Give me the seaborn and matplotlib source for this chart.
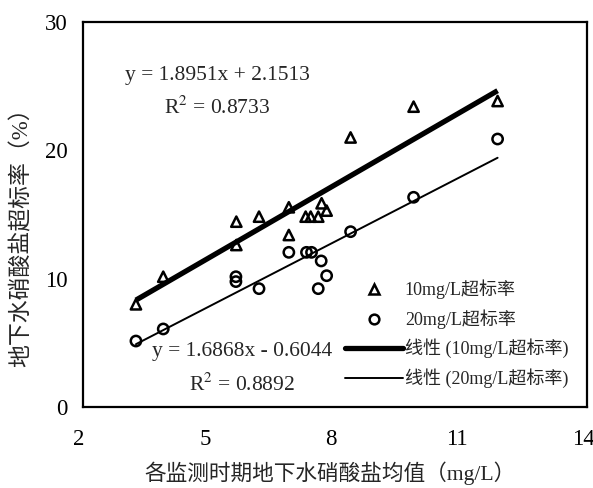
import pandas as pd
import numpy as np
import seaborn as sns
import matplotlib.pyplot as plt
import matplotlib.transforms as mtransforms
from matplotlib.lines import Line2D

# 各监测时期硝酸盐均值 (mg/L)
x10 = [3.26, 3.91, 5.65, 5.65, 6.19, 6.90, 6.90, 7.30, 7.42, 7.60, 7.68, 7.80, 8.37, 9.87, 11.87]
x20 = [3.26, 3.91, 5.64, 5.64, 6.19, 6.90, 7.32, 7.44, 7.67, 7.60, 7.80, 8.37, 9.87, 11.87]
# 超标率 (%)
rate_10 = [8.0, 10.15, 14.44, 12.62, 14.83, 15.56, 13.40, 14.83, 14.83, 14.83, 15.87, 15.30, 21.0, 23.4, 23.84]
rate_20 = [5.14, 6.08, 10.15, 9.77, 9.22, 12.05, 12.05, 12.05, 11.38, 9.22, 10.23, 13.66, 16.34, 20.88]

series_names = ['10mg/L超标率', '20mg/L超标率']
fit_slope = [1.8951, 1.6868]
fit_intercept = [2.1513, -0.6044]
fit_r2 = [0.8733, 0.8892]

sns.set_style('white')
plt.rcParams['font.family'] = ['Liberation Serif', 'Noto Sans CJK SC']
plt.rcParams['mathtext.fontset'] = 'stix'

df = pd.DataFrame({
    'x': x10 + x20,
    'y': rate_10 + rate_20,
    'series': [series_names[0]] * len(rate_10) + [series_names[1]] * len(rate_20),
})

fig = plt.figure(figsize=(5.93, 4.88), dpi=100)
ax = fig.add_axes([0.140, 0.166, 0.850, 0.789])

sns.scatterplot(data=df, x='x', y='y', style='series', markers={series_names[0]: '^', series_names[1]: 'o'},
                s=55, facecolor='none', edgecolor='black', linewidth=1.8, legend=False, ax=ax)

xs = np.array([min(x10), max(x10)])
ax.plot(xs, fit_slope[0] * xs + fit_intercept[0], color='black', lw=3.8, solid_capstyle='butt')
ax.plot(xs, fit_slope[1] * xs + fit_intercept[1], color='black', lw=1.4)

fs = 15.5
ax.text(5.19, 25.8, f'y = {fit_slope[0]:.4f}x + {fit_intercept[0]:.4f}', ha='center', va='center', fontsize=fs)
ax.text(5.19, 23.3, f'R$^2$ = {fit_r2[0]:.4f}', ha='center', va='center', fontsize=fs)
ax.text(5.79, 4.29, f'y = {fit_slope[1]:.4f}x - {abs(fit_intercept[1]):.4f}', ha='center', va='center', fontsize=fs)
ax.text(5.79, 1.71, f'R$^2$ = {fit_r2[1]:.4f}', ha='center', va='center', fontsize=fs)

handles = [
    Line2D([], [], ls='none', marker='^', ms=7, mfc='none', mec='black', mew=1.8),
    Line2D([], [], ls='none', marker='o', ms=7, mfc='none', mec='black', mew=1.8),
    Line2D([], [], color='black', lw=3.8),
    Line2D([], [], color='black', lw=1.4),
]
labels = series_names + [f'线性 ({n})' for n in series_names]
ax.legend(handles, labels, loc='lower right', bbox_to_anchor=(0.995, 0.007), frameon=False,
          fontsize=13, handlelength=3.2, handletextpad=0.1, labelspacing=0.55)

ax.set_xlim(2, 14)
ax.set_ylim(0, 30)
ax.set_xticks([2, 5, 8, 11, 14])
ax.set_yticks([0, 10, 20, 30])
ax.tick_params(direction='in', length=5, width=1, labelsize=16.5, colors='black')
ax.tick_params(axis='x', pad=15.5)
ax.tick_params(axis='y', pad=11)
shift = mtransforms.ScaledTranslation(-4 / 100, 0, fig.dpi_scale_trans)
for lab in ax.get_xticklabels():
    lab.set_transform(lab.get_transform() + shift)
for sp in ax.spines.values():
    sp.set_linewidth(1.6)
    sp.set_color('black')

ax.set_xlabel('各监测时期地下水硝酸盐均值（mg/L）', fontsize=15.6)
ax.set_ylabel('地下水硝酸盐超标率（%）', fontsize=16.5)
ax.xaxis.set_label_coords(0.49, -0.142)
ax.yaxis.set_label_coords(-0.10, 0.455)

fig.savefig('out.png', dpi=100)
